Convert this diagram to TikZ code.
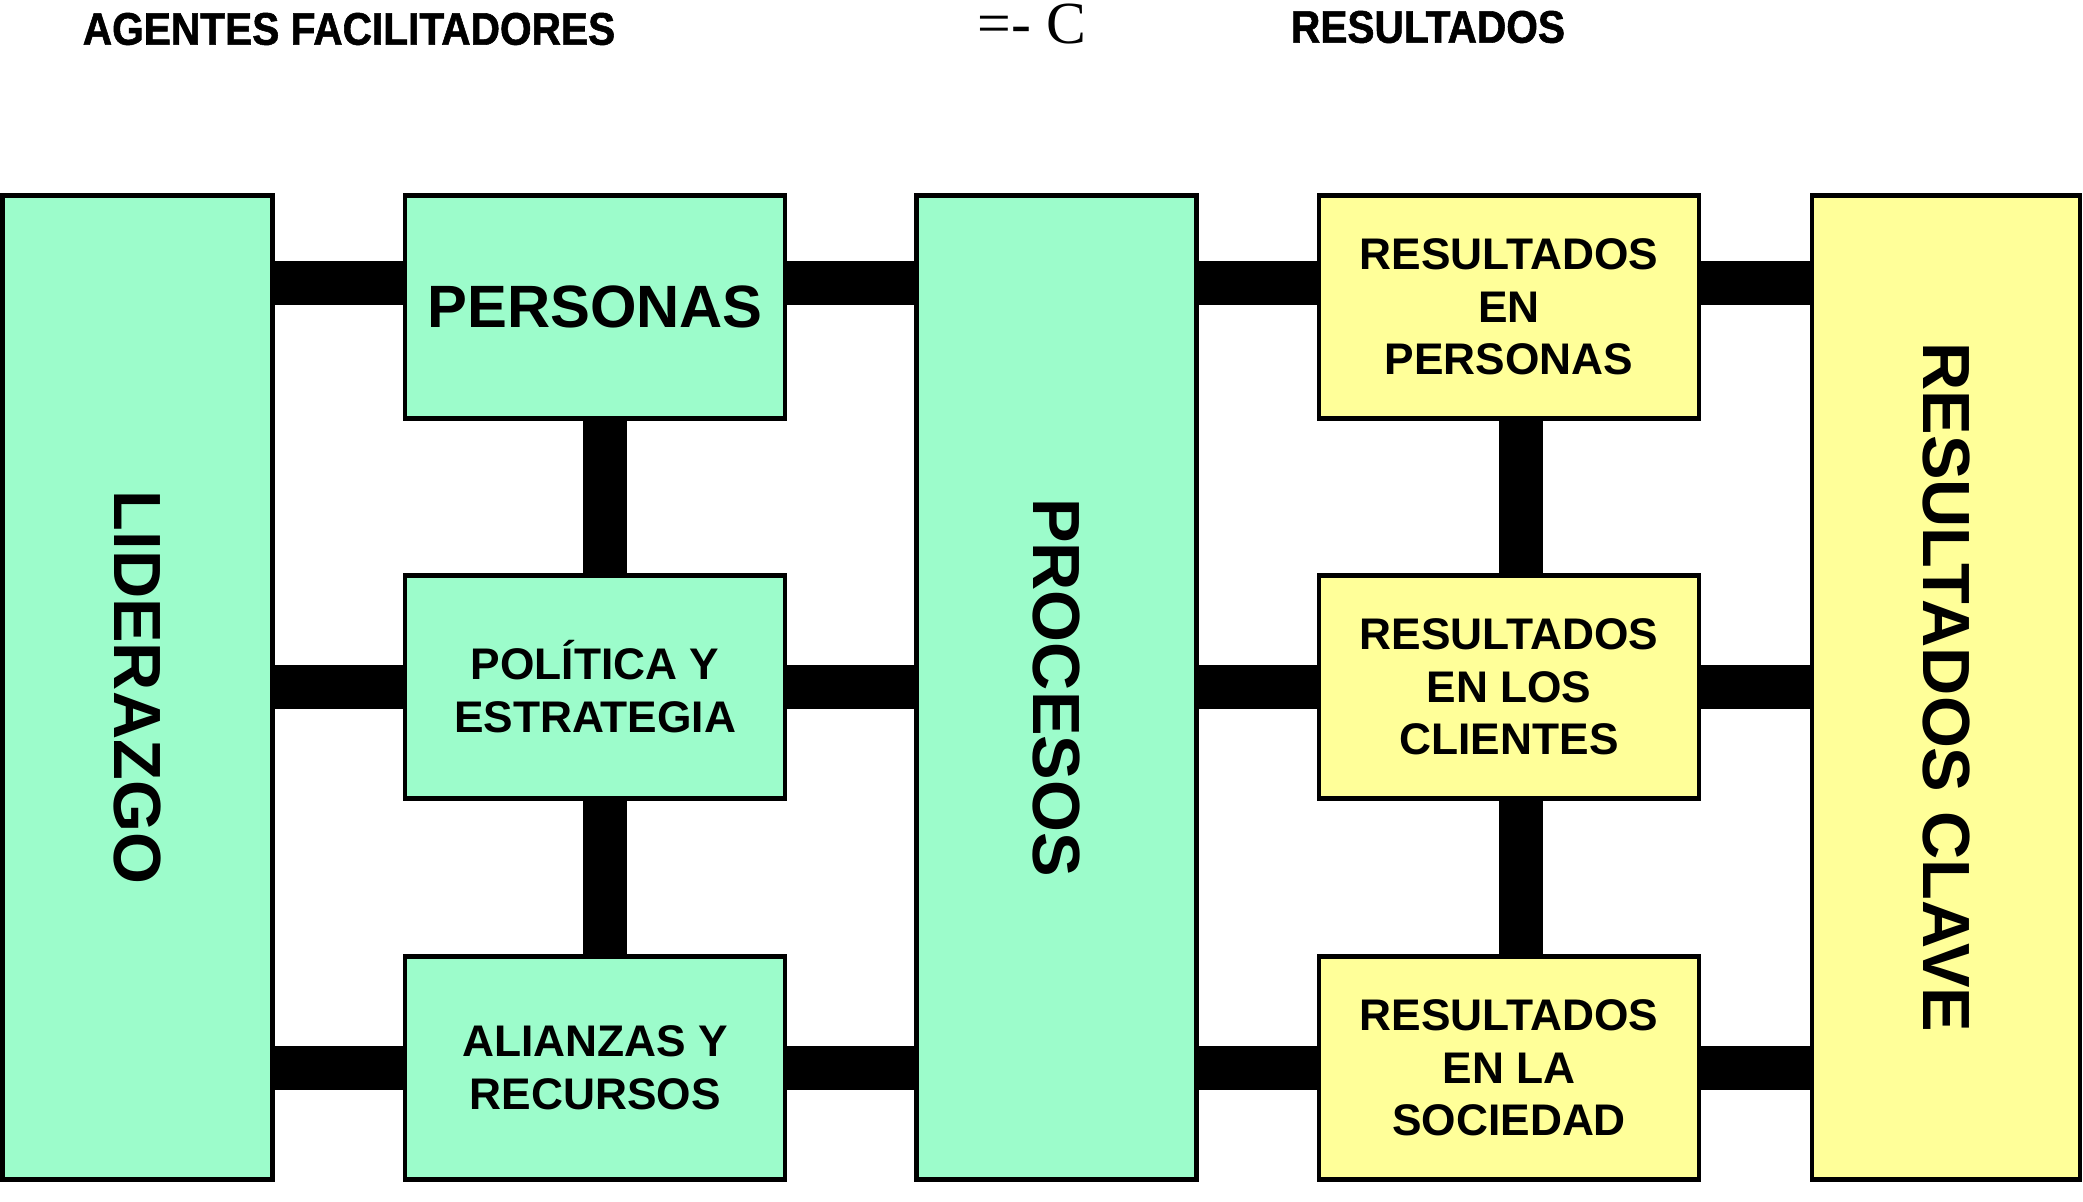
\documentclass[tikz,border=0pt]{standalone}
\usepackage{fontspec}
\setmainfont{Liberation Sans}
\newfontfamily\headfont[FakeStretch=0.89,FakeBold=1.2]{Liberation Sans}
\newfontfamily\signofont{Liberation Serif}
\definecolor{agente}{HTML}{9CFCCB}
\definecolor{resultado}{HTML}{FFFF99}
\newcommand{\vtxt}[1]{\rotatebox{-90}{#1}}

\tikzset{
  caja/.style={draw=black, line width=1.3pt, align=center, inner sep=0pt,
    font=\bfseries\fontsize{12.6}{15}\selectfont},
  agentebox/.style={caja, fill=agente},
  resbox/.style={caja, fill=resultado},
  pequena/.style={minimum width=3.8cm, minimum height=2.23cm},
  columna/.style={minimum height=9.84cm, font=\bfseries\fontsize{19}{22}\selectfont},
  titulo/.style={inner sep=0pt, font=\headfont\bfseries\fontsize{13}{15}\selectfont},
  barra/.style={line width=12.4pt, black},
}

\begin{document}
\begin{tikzpicture}
  \useasboundingbox (0,0) rectangle (20.83,-12.02);
  % encabezados
  \node[titulo] (tagentes) at (3.49,-0.29) {AGENTES FACILITADORES};
  \node[inner sep=0pt, font=\signofont\fontsize{17}{20}\selectfont] (tsigno) at (10.32,-0.24) {=- C};
  \node[titulo] (tresult) at (14.28,-0.27) {RESULTADOS};

  % agentes facilitadores
  \node[agentebox, columna, minimum width=2.7cm] (lid) at (1.375,-6.874) {\vtxt{LIDERAZGO}};
  \node[agentebox, pequena, font=\bfseries\fontsize{17}{20}\selectfont] (per) at (5.951,-3.069) {PERSONAS};
  \node[agentebox, pequena] (pol) at (5.951,-6.868) {POLÍTICA Y\\ESTRATEGIA};
  \node[agentebox, pequena] (ali) at (5.951,-10.68) {ALIANZAS Y\\RECURSOS};
  \node[agentebox, columna, minimum width=2.8cm] (pro) at (10.567,-6.874) {\vtxt{PROCESOS}};

  % resultados
  \node[resbox, pequena] (rper) at (15.091,-3.069) {RESULTADOS\\EN\\PERSONAS};
  \node[resbox, pequena] (rcli) at (15.091,-6.868) {RESULTADOS\\EN LOS\\CLIENTES};
  \node[resbox, pequena] (rsoc) at (15.091,-10.68) {RESULTADOS\\EN LA\\SOCIEDAD};
  \node[resbox, columna, minimum width=2.68cm] (clave) at (19.461,-6.874) {\vtxt{RESULTADOS CLAVE}};

  % barras de union
  \coordinate (fila) at ([yshift=2.4mm]per.west);
  \foreach \a/\b in {lid/per, per/pro, pro/rper, rper/clave} {
    \draw[barra] (\a.east |- fila) -- (\b.west |- fila);
  }
  \foreach \a/\b/\f in {lid/pol/pol, pol/pro/pol, pro/rcli/rcli, rcli/clave/rcli,
                        lid/ali/ali, ali/pro/ali, pro/rsoc/rsoc, rsoc/clave/rsoc} {
    \draw[barra] (\a.east |- \f.west) -- (\b.west |- \f.west);
  }
  \foreach \a/\b in {per/pol, pol/ali} {
    \draw[barra] ([xshift=1mm]\a.south) -- ([xshift=1mm]\b.north);
  }
  \foreach \a/\b in {rper/rcli, rcli/rsoc} {
    \draw[barra] ([xshift=1.2mm]\a.south) -- ([xshift=1.2mm]\b.north);
  }
\end{tikzpicture}
\end{document}
